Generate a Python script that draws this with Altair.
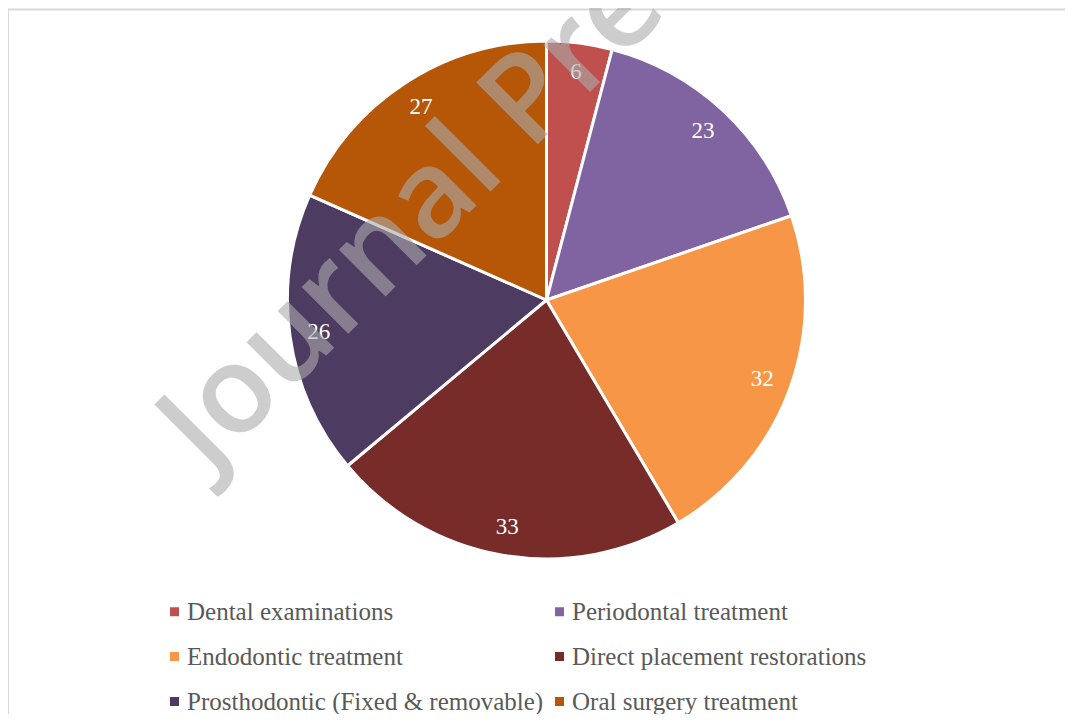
import altair as alt
import pandas as pd

categories = [
    "Dental examinations",
    "Periodontal treatment",
    "Endodontic treatment",
    "Direct placement restorations",
    "Prosthodontic (Fixed & removable)",
    "Oral surgery treatment",
]
values = [6, 23, 32, 33, 26, 27]
colors = ["#C0504D", "#8064A2", "#F79646", "#772C2A", "#4D3B62", "#B65708"]
watermark = ["Journal Pre-proof"]

df = pd.DataFrame({"category": categories, "value": values, "order": list(range(len(categories)))})
one = pd.DataFrame({"k": [0]})

W, H = 1057, 706
CX, CY, R = 538.5, 292, 259

base = alt.Chart(df).encode(
    theta=alt.Theta("value:Q", stack=True),
    order=alt.Order("order:Q", sort="ascending"),
)

pie = base.mark_arc(outerRadius=R, stroke="white", strokeWidth=3).encode(
    x=alt.value(CX),
    y=alt.value(CY),
    color=alt.Color(
        "category:N",
        scale=alt.Scale(domain=categories, range=colors),
        legend=alt.Legend(
            orient="none",
            legendX=154,
            legendY=591,
            columns=2,
            direction="horizontal",
            title=None,
            labelFont="Liberation Serif",
            labelFontSize=25,
            labelColor="#595959",
            symbolType="square",
            symbolSize=81,
            symbolStrokeWidth=0,
            symbolOpacity=1,
            labelOffset=0,
            columnPadding=3,
            rowPadding=19,
            labelLimit=600,
            padding=0,
        ),
    ),
)

labels = base.mark_text(
    radius=230, font="Liberation Serif", fontSize=23, color="white"
).encode(
    x=alt.value(CX),
    y=alt.value(CY),
    text=alt.Text("value:Q"),
    detail="category:N",
)

wm = alt.Chart(pd.DataFrame({"t": watermark})).mark_text(
    angle=315, align="left", baseline="alphabetic", font="Open Sans",
    fontSize=122, fontWeight=600, color="#ACACAC", opacity=0.6,
).encode(x=alt.value(200), y=alt.value(466), text="t:N")

frame_top = alt.Chart(one).mark_rule(color="#D9D9D9", strokeWidth=2).encode(
    x=alt.value(-2), x2=alt.value(W), y=alt.value(1.5)
)
frame_left = alt.Chart(one).mark_rule(color="#D9D9D9", strokeWidth=2).encode(
    x=alt.value(0), y=alt.value(1.5), y2=alt.value(H)
)

chart = alt.layer(frame_top, frame_left, pie, labels, wm).properties(
    width=W, height=H, autosize=alt.AutoSizeParams(type="none"), padding=0
).configure_view(stroke=None)

chart.save("out.html", embed_options={"renderer": "svg", "actions": False})
